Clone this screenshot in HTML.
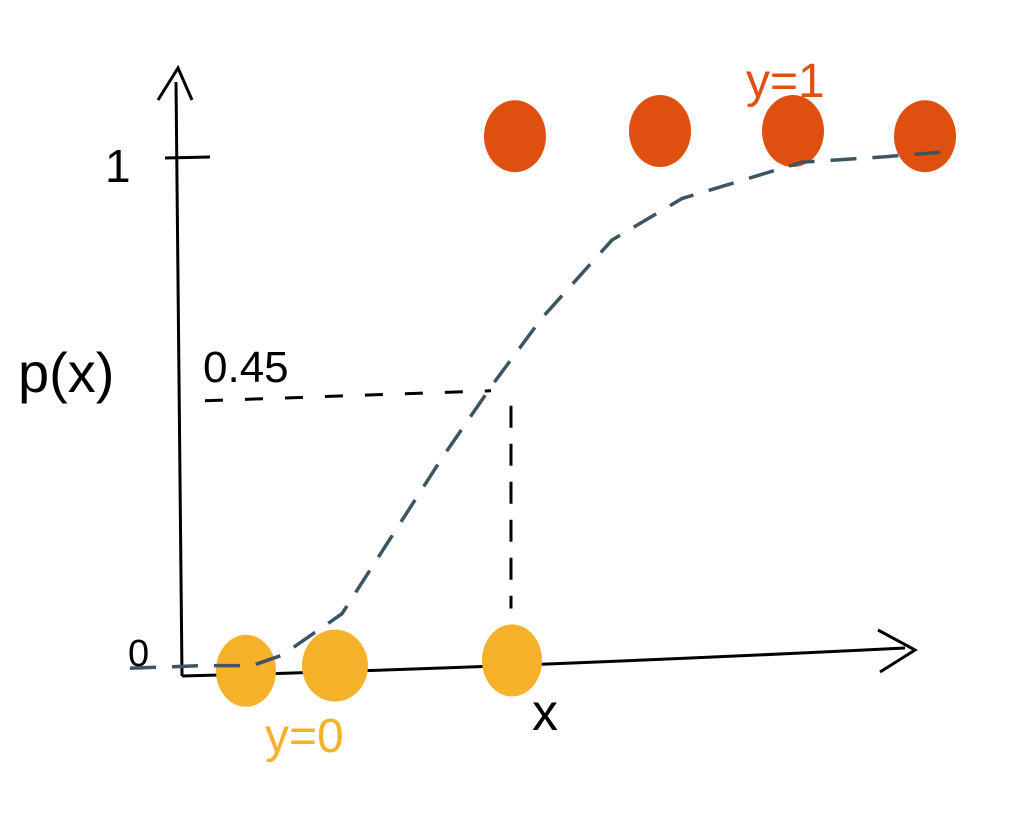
<!DOCTYPE html>
<html><head><meta charset="utf-8"><style>
html,body{margin:0;padding:0;background:#fff;}
svg{display:block;}
text{font-family:"Liberation Sans",sans-serif;}
</style></head><body>
<svg id="chart" width="1022" height="821" viewBox="0 0 1022 821" xmlns="http://www.w3.org/2000/svg">
<g id="axes">
<path d="M182 676 Q178 400 176 82" stroke="#000" stroke-width="3" fill="none"/>
<path d="M158 100 L178 68 L192 100" stroke="#000" stroke-width="3" fill="none"/>
<path d="M182 676 Q500 668 905 648" stroke="#000" stroke-width="3" fill="none"/>
<path d="M878 630 L915 650 L880 672" stroke="#000" stroke-width="3" fill="none"/>
<path d="M165 158 L210 157" stroke="#000" stroke-width="3"/>
<text x="105" y="182" font-size="46">1</text>
<text x="128" y="666" font-size="38">0</text>
<text x="18" y="392" font-size="56">p(x)</text>
<text x="532" y="730" font-size="52">x</text>
<text x="203" y="382" font-size="44">0.45</text>
</g>
<g id="guides"></g>
<g id="curve"></g>
<g id="points"></g>
<text x="265" y="752" font-size="48" fill="#f5b12a">y=0</text>
<text x="746" y="97" font-size="48" fill="#e05012">y=1</text>
</svg>
<script>
// data
const class0X = [0.64, 1.53, 3.3];
const class0Y = [0.01, 0.02, 0.03];
const class1X = [3.33, 4.78, 6.11, 7.43];
const class1Y = [1.04, 1.05, 1.05, 1.04];
const curveX = [-0.52, 0.2, 0.7, 1.0, 1.6, 2.2, 2.6, 3.1, 3.6, 4.3, 5.0, 6.2, 7.0, 7.63];
const curveP = [0.015, 0.02, 0.02, 0.04, 0.12, 0.3, 0.42, 0.56, 0.69, 0.84, 0.92, 0.99, 1.0, 1.01];
const threshold = [0.54];
const thresholdX = [3.29];

const x = v => 182 + v * 100;
const y = v => 676 - v * 519;
const NS = "http://www.w3.org/2000/svg";

const guides = document.getElementById('guides');
const h = document.createElementNS(NS, 'path');
h.setAttribute('d', `M205 ${y(threshold[0])+5} L${x(thresholdX[0])-20} ${y(threshold[0])-5}`);
h.setAttribute('stroke', '#000'); h.setAttribute('stroke-width', '3'); h.setAttribute('stroke-dasharray', '18 22'); h.setAttribute('fill', 'none');


guides.appendChild(h);
const vl = document.createElementNS(NS, 'path');
vl.setAttribute('d', `M${x(thresholdX[0])} ${y(threshold[0])+10} L${x(thresholdX[0])} ${y(0.13)}`);
vl.setAttribute('stroke', '#000'); vl.setAttribute('stroke-width', '3'); vl.setAttribute('stroke-dasharray', '22 16'); vl.setAttribute('fill', 'none');


guides.appendChild(vl);

const cg = document.getElementById('curve');
const cp = document.createElementNS(NS, 'path');
cp.setAttribute('d', curveX.map((v, i) => (i ? 'L' : 'M') + x(v) + ' ' + y(curveP[i])).join(' '));
cp.setAttribute('stroke', '#3d5563'); cp.setAttribute('stroke-width', '3.5'); cp.setAttribute('stroke-dasharray', '26 16'); cp.setAttribute('fill', 'none');



const pg = document.getElementById('points');
class0X.forEach((v, i) => {
  const e = document.createElementNS(NS, 'ellipse');
  e.setAttribute('cx', x(v)); e.setAttribute('cy', y(class0Y[i])); e.setAttribute('rx', i === 1 ? 33 : 30); e.setAttribute('ry', 36);
  e.setAttribute('fill', '#f5b12a');
  
  
  pg.appendChild(e);
});
class1X.forEach((v, i) => {
  const e = document.createElementNS(NS, 'ellipse');
  e.setAttribute('cx', x(v)); e.setAttribute('cy', y(class1Y[i])); e.setAttribute('rx', 31); e.setAttribute('ry', 36);
  e.setAttribute('fill', '#df5010');
  
  
  pg.appendChild(e);
});
cg.appendChild(cp);
document.getElementById('chart').appendChild(cg);
</script>
</body></html>
